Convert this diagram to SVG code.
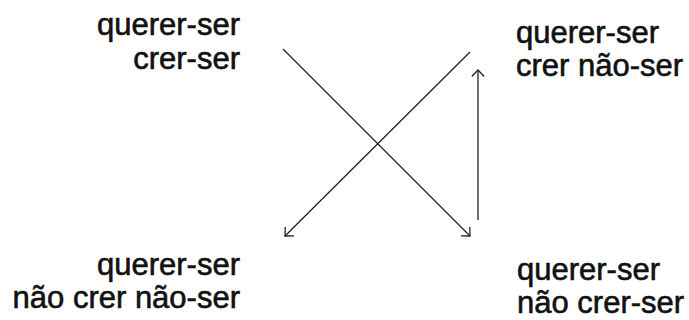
<svg xmlns="http://www.w3.org/2000/svg" width="689" height="320" viewBox="0 0 689 320">
<style>
.t{font-family:"Liberation Sans",Arial,sans-serif;font-size:31px;fill:#111;stroke:#111;stroke-width:0.6;}
.e{text-anchor:end;}
.c{stroke:#222;stroke-width:1.3;fill:none;}
</style>
<defs>
<marker id="ah" viewBox="0 0 10 14" refX="9" refY="7" markerWidth="10" markerHeight="14" markerUnits="userSpaceOnUse" orient="auto">
<path d="M2.5,0.8 L9,7 L2.5,13.2" fill="none" stroke="#222" stroke-width="1.3"/>
</marker>
</defs>
<rect width="689" height="320" fill="#fff"/>
<g id="connectors">
<line class="c" x1="283" y1="49" x2="470" y2="236" marker-end="url(#ah)"/>
<line class="c" x1="470" y1="52" x2="285" y2="236" marker-end="url(#ah)"/>
<line class="c" x1="478" y1="220" x2="478" y2="70" marker-end="url(#ah)"/>
</g>
<g id="n-top-left">
<text class="t e" x="240" y="35">querer-ser</text>
<text class="t e" x="240" y="69">crer-ser</text>
</g>
<g id="n-top-right">
<text class="t" x="516" y="43">querer-ser</text>
<text class="t" x="516" y="76">crer não-ser</text>
</g>
<g id="n-bottom-left">
<text class="t e" x="240" y="275">querer-ser</text>
<text class="t e" x="240" y="308">não crer não-ser</text>
</g>
<g id="n-bottom-right">
<text class="t" x="517" y="280">querer-ser</text>
<text class="t" x="517" y="313">não crer-ser</text>
</g>
</svg>
